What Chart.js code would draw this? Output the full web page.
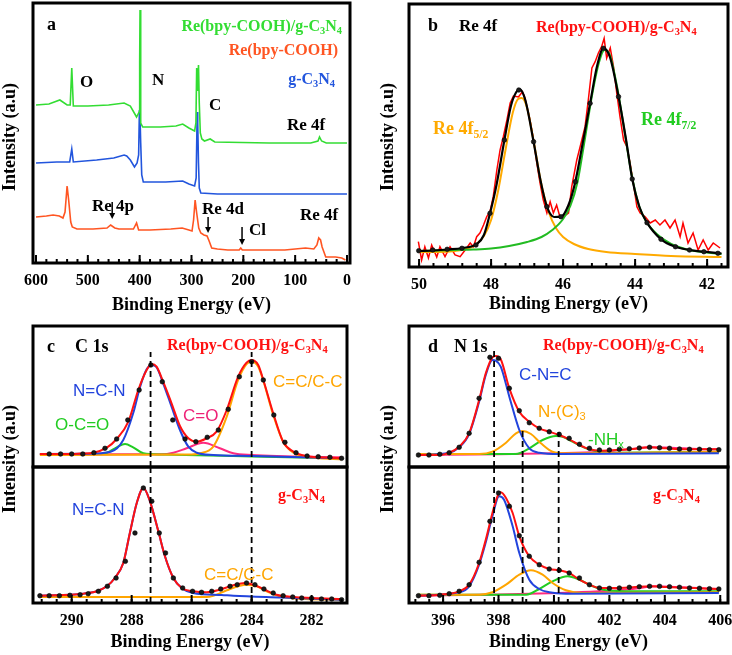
<!DOCTYPE html>
<html>
<head>
<meta charset="utf-8">
<script src="https://cdn.jsdelivr.net/npm/chart.js@4.4.1/dist/chart.umd.min.js"></script>
<style>
  body { margin: 0; background: #fff; }
  #page { position: relative; width: 732px; height: 655px; overflow: hidden; }
  canvas { position: absolute; }
  .t { position: absolute; white-space: nowrap; transform: translateY(-50%); font-family: 'Liberation Serif', serif; font-weight: bold; font-size: 17px; line-height: 1; }
  .r { transform: translate(-100%, -50%); }
  .s { font-family: 'Liberation Sans', Arial, sans-serif; font-weight: normal; font-size: 17px; }
  .yt { position: absolute; white-space: nowrap; transform: translate(-50%, -50%) rotate(-90deg); font-family: 'Liberation Serif', serif; font-weight: bold; font-size: 18px; }
  sub { font-size: 0.65em; vertical-align: -0.3em; line-height: 0; }
</style>
</head>
<body>
<div id="page">
  <canvas id="ca"></canvas>
  <canvas id="cb"></canvas>
  <canvas id="ccUp"></canvas>
  <canvas id="ccLow"></canvas>
  <canvas id="cdUp"></canvas>
  <canvas id="cdLow"></canvas>

  <!-- y titles -->
  <div class="yt" style="left:9px;top:137px">Intensity (a.u)</div>
  <div class="yt" style="left:387px;top:137px">Intensity (a.u)</div>
  <div class="yt" style="left:9px;top:459px">Intensity (a.u)</div>
  <div class="yt" style="left:387px;top:459px">Intensity (a.u)</div>

  <!-- panel a -->
  <div class="t" style="left:47px;top:24px;font-size:18px">a</div>
  <div class="t" style="left:80px;top:81px">O</div>
  <div class="t" style="left:152px;top:79px">N</div>
  <div class="t" style="left:209px;top:104px">C</div>
  <div class="t" style="left:287px;top:124px">Re 4f</div>
  <div class="t" style="left:92px;top:205px">Re 4p</div>
  <div class="t" style="left:202px;top:208px">Re 4d</div>
  <div class="t" style="left:249px;top:229px">Cl</div>
  <div class="t" style="left:300px;top:214px">Re 4f</div>
  <div class="t r" style="left:342px;top:26px;color:#33dd33;font-size:16px">Re(bpy-COOH)/g-C<sub>3</sub>N<sub>4</sub></div>
  <div class="t r" style="left:338px;top:50px;color:#ff5522;font-size:16px">Re(bpy-COOH)</div>
  <div class="t r" style="left:335px;top:79px;color:#2255dd;font-size:16px">g-C<sub>3</sub>N<sub>4</sub></div>

  <!-- panel b -->
  <div class="t" style="left:428px;top:25px;font-size:18px">b</div>
  <div class="t" style="left:459px;top:25px">Re 4f</div>
  <div class="t" style="left:536px;top:27px;color:#ff1111;font-size:16px">Re(bpy-COOH)/g-C<sub>3</sub>N<sub>4</sub></div>
  <div class="t" style="left:433px;top:128px;color:#ffaa00;font-size:18px">Re 4f<sub>5/2</sub></div>
  <div class="t" style="left:641px;top:119px;color:#22cc22;font-size:18px">Re 4f<sub>7/2</sub></div>

  <!-- panel c -->
  <div class="t" style="left:47px;top:346px;font-size:18px">c</div>
  <div class="t" style="left:75px;top:346px;font-size:18px">C 1s</div>
  <div class="t" style="left:167px;top:345px;color:#ff1111;font-size:16px">Re(bpy-COOH)/g-C<sub>3</sub>N<sub>4</sub></div>
  <div class="t s" style="left:73px;top:390px;color:#2244dd">N=C-N</div>
  <div class="t s" style="left:55px;top:424px;color:#22cc22">O-C=O</div>
  <div class="t s" style="left:183px;top:415px;color:#ee2277">C=O</div>
  <div class="t s" style="left:273px;top:381px;color:#ffa500">C=C/C-C</div>
  <div class="t" style="left:278px;top:495px;color:#ff1111;font-size:16px">g-C<sub>3</sub>N<sub>4</sub></div>
  <div class="t s" style="left:72px;top:509px;color:#2244dd">N=C-N</div>
  <div class="t s" style="left:204px;top:574px;color:#ffa500">C=C/C-C</div>

  <!-- panel d -->
  <div class="t" style="left:428px;top:346px;font-size:18px">d</div>
  <div class="t" style="left:454px;top:346px;font-size:18px">N 1s</div>
  <div class="t" style="left:543px;top:345px;color:#ff1111;font-size:16px">Re(bpy-COOH)/g-C<sub>3</sub>N<sub>4</sub></div>
  <div class="t s" style="left:519px;top:374px;color:#2244dd">C-N=C</div>
  <div class="t s" style="left:538px;top:411px;color:#ffa500">N-(C)<sub>3</sub></div>
  <div class="t s" style="left:588px;top:439px;color:#22cc22">-NH<sub>x</sub></div>
  <div class="t" style="left:653px;top:495px;color:#ff1111;font-size:16px">g-C<sub>3</sub>N<sub>4</sub></div>
</div>

<script>
// ---- data: [binding energy (eV), intensity (a.u.)] ----

// panel a, survey spectra
const aComposite = [[600,158],[575,159],[554,163],[540,158],[534,158],[531,195],[528,157],[500,157],[460,158],[430,160],[418,157],[406,146],[401,151],[400,200],[399.3,253],[398.5,200],[397.5,140],[394,136],[360,136],[330,137],[317,139],[305,135],[294,132],[291.5,140],[290,195],[288.5,172],[286.5,198],[285,160],[283,130],[280,124],[275,122],[264,124],[255,121],[150,120],[70,120],[56,122],[53,126],[49,122],[40,120],[0,120]];
const aCarbonNitride = [[600,100],[560,101],[535,101],[531,114],[528,101],[483,103],[450,105],[430,108],[425,107],[418,103],[410,96],[405,100],[402,108],[400.5,153],[399.5,150],[398,120],[396,88],[393,81],[350,81],[317,82],[305,79],[294,77],[291,85],[289,151],[288,140],[286.5,100],[285,75],[282,70],[250,69],[0,69]];
const aComplex = [[600,46],[580,47],[567,48],[555,47],[548,45],[544,51],[540,77],[537,63],[533,41],[530,36],[521,34],[490,34],[463,35],[456,38],[448,35],[440,34],[412,34],[406,40],[402,33],[380,33],[340,34],[318,35],[305,33],[299,32],[296,43],[293,63],[290,50],[286,35],[282,30],[276,28],[270,27],[266,22],[261,15],[250,14],[230,13],[208,13],[205,15],[202,13],[177,13],[120,13],[80,15],[64,14],[58,18],[54.5,25],[51,23],[48,16],[41,6],[22,6],[10,5],[3,3]];
const aTicks = [600, 500, 400, 300, 200, 100, 0];
const aArrows = [{x: 453, from: 61, to: 44}, {x: 268, from: 46, to: 30}, {x: 202.5, from: 36, to: 18}];

// panel b, Re 4f
const bRaw = [[50.02,25.3],[49.93,7],[49.84,20.3],[49.74,9],[49.65,22],[49.51,10],[49.42,20.3],[49.28,10.3],[49.14,20.3],[49.0,12],[48.86,10.3],[48.72,17],[48.58,24],[48.49,20.3],[48.4,30.3],[48.31,34],[48.21,42],[48.12,50.3],[48.03,55.3],[47.94,70.3],[47.84,97],[47.75,117],[47.66,130.3],[47.56,147],[47.47,164],[47.38,171],[47.24,170],[47.13,175.3],[47.06,169],[46.92,147],[46.82,127],[46.73,104],[46.64,84],[46.55,67],[46.45,54],[46.36,65.3],[46.27,54],[46.18,62],[46.08,49],[45.99,50.3],[45.85,54],[45.76,80.3],[45.62,107],[45.48,127],[45.39,140.3],[45.3,167],[45.2,199],[45.11,205.3],[45.02,214],[44.93,220.3],[44.86,228.7],[44.79,209],[44.69,219],[44.6,200.3],[44.51,174],[44.42,150.3],[44.32,127],[44.23,120.3],[44.14,104],[44.05,84],[43.95,60.3],[43.86,54],[43.72,50.3],[43.58,44],[43.44,47],[43.31,42],[43.17,47],[43.03,39],[42.89,47],[42.75,30.3],[42.67,44],[42.53,24],[42.39,34],[42.25,17],[42.11,27],[41.97,17],[41.83,24],[41.64,19]];
const bFit = [[50.0,16],[49.6,16.5],[49.2,17.5],[48.8,19],[48.4,23],[48.2,32],[48.03,53.7],[47.85,82],[47.63,127],[47.45,161],[47.3,175],[47.2,177.7],[47.05,167],[46.82,125.3],[46.63,87],[46.45,60.3],[46.25,50],[46.06,50.3],[45.85,62],[45.66,85.3],[45.45,125],[45.25,163.7],[45.05,202],[44.88,218.7],[44.7,210],[44.46,170.3],[44.25,127],[44.08,88],[43.88,60],[43.67,44.3],[43.28,27.7],[42.88,20.3],[42.49,17],[42.09,15.3],[41.6,13.5]];
const bFitDots = [[50.01,16.3],[49.62,17],[49.22,17.7],[48.81,18.7],[48.42,22],[48.03,53.7],[47.63,127],[47.23,177],[46.82,125.3],[46.45,60.3],[46.06,50.3],[45.66,85.3],[45.25,163.7],[44.88,218.7],[44.46,170.3],[44.08,88],[43.67,44.3],[43.28,27.7],[42.88,20.3],[42.49,17],[42.09,15.3],[41.7,13.7]];
const bRe4f52 = [[50.0,15],[49.5,15],[49.0,16],[48.6,19],[48.4,23],[48.2,31],[48.0,47],[47.8,77],[47.6,117],[47.4,154],[47.25,168],[47.15,169],[47.0,159],[46.8,122],[46.6,82],[46.4,55],[46.2,39],[46.0,30],[45.7,23],[45.3,18],[44.8,15],[44.0,13],[43.0,11],[41.6,10]];
const bRe4f72 = [[50.0,16],[49.0,17],[48.5,17.5],[48.0,18.5],[47.5,21],[47.0,25],[46.6,30],[46.3,37],[46.0,48],[45.8,61],[45.6,85],[45.4,127],[45.2,171],[45.0,205],[44.85,217],[44.7,212],[44.5,180],[44.3,137],[44.1,93],[43.9,62],[43.7,46],[43.4,33],[43.0,23],[42.5,17],[42.0,14.5],[41.6,13]];
const bTicks = [50, 48, 46, 44, 42];

// panel c, C 1s
const cUpEnvelope = [[291.06,13],[290,13],[289.7,13.5],[289.28,14.3],[288.83,19.3],[288.5,28],[288.11,45.3],[287.78,77],[287.5,97],[287.33,103],[287.17,100.3],[286.95,85.3],[286.67,63.7],[286.39,41],[286.11,28.7],[285.83,25.3],[285.5,28.7],[285.17,35.3],[284.83,57],[284.45,90.3],[284.17,104.3],[284.0,107],[283.78,102],[283.61,87],[283.28,53.7],[282.95,25.3],[282.61,15.3],[282.17,11],[281.0,8.7]];
const cUpNCN = [[291.06,13],[289.5,13.3],[288.7,15.3],[288.28,27],[287.95,53.7],[287.72,80],[287.5,97.7],[287.33,102],[287.17,99.7],[286.95,83.7],[286.67,60.3],[286.39,37],[286.11,20.3],[285.83,14.3],[285.28,12],[284,11],[281.0,8.7]];
const cUpOCO = [[291.06,12.7],[289.3,13],[288.83,14.3],[288.5,19.7],[288.22,23],[287.95,19.7],[287.61,13.7],[287.0,12.5],[284,10.5],[281.0,8.7]];
const cUpCO = [[291.06,12.7],[287,12.7],[286.61,14.3],[286.17,18.7],[285.61,24.3],[285.06,18.7],[284.61,13.7],[284,12],[281.0,9.7]];
const cUpCC = [[291.06,12],[286,12.5],[285.72,13.7],[285.28,20.3],[284.83,50.3],[284.45,87],[284.17,103],[284.0,105.3],[283.78,100.3],[283.61,86.3],[283.28,52],[282.95,25.3],[282.61,14.3],[282.17,10.3],[281.0,7.7]];
const cUpDots = [[290.75,13],[290.37,13],[290.0,13],[289.63,13],[289.26,14.3],[288.89,18.7],[288.5,28],[288.13,47],[287.75,77],[287.36,102],[286.98,85.3],[286.63,47],[286.22,28],[285.86,25.3],[285.48,29.7],[285.11,37],[284.78,57.7],[284.41,90.3],[284.0,105.3],[283.61,87],[283.26,52],[282.89,24.7],[282.52,14.3],[282.15,11],[281.78,10.3],[281.39,9.7],[281.0,8.7]];
const cLowEnvelope = [[291.06,7.3],[289.61,9.3],[289.17,11.7],[288.83,16.7],[288.56,25],[288.28,40],[288.06,70],[287.83,100],[287.61,115],[287.39,101.7],[287.11,71.7],[286.89,46.7],[286.61,25],[286.33,15],[285.95,11.7],[285.5,10.7],[285.06,13.3],[284.61,17.7],[284.22,20],[283.94,18.3],[283.61,14],[283.17,8.3],[282.61,6],[281.0,4]];
const cLowNCN = [[291.06,7.3],[289.61,9.3],[289.17,11.7],[288.83,16.7],[288.56,25],[288.28,40],[288.06,70],[287.83,100],[287.61,115],[287.39,101.7],[287.11,71.7],[286.89,46.7],[286.61,25],[286.33,15],[285.95,10],[285.0,8],[284.61,7.3],[283,5.5],[281.0,3.3]];
const cLowCC = [[291.06,6],[285.5,6],[285.28,7.3],[284.83,12.7],[284.39,17.3],[284.17,18.3],[283.83,16.7],[283.5,11.7],[283.06,6.7],[282.5,4.5],[281.0,3.3]];
const cLowDots = [[291.06,7.3],[290.75,7.3],[290.41,7.3],[290.06,7.7],[289.72,8.3],[289.45,9.3],[289.11,11.7],[288.81,16.7],[288.52,25],[288.21,41.7],[287.89,70],[287.61,115],[287.33,101.7],[287.08,70],[286.87,50],[286.61,25],[286.3,15],[285.97,11.7],[285.67,10.7],[285.33,11.7],[285.03,14],[284.72,16.7],[284.48,18.3],[284.17,20],[283.89,18.3],[283.59,14],[283.28,10],[282.95,7.3],[282.63,6],[282.33,5],[282.0,4.7],[281.67,4],[281.33,4],[281.0,3.3]];
const cPeakLines = [287.37, 284.0];
const cUpLineTop = 115;
const cTicks = [290, 288, 286, 284, 282];

// panel d, N 1s
const dUpEnvelope = [[395.11,12],[395.88,12],[396.22,14.3],[396.58,20.3],[396.94,33.7],[397.3,67],[397.54,93.7],[397.78,109.7],[397.9,111],[398.08,107.7],[398.39,78.7],[398.75,55.3],[399.11,45.3],[399.47,38.7],[399.83,35.3],[400.19,32],[400.55,27.7],[400.92,22],[401.28,17.7],[401.64,16.3],[402.24,17],[402.84,18],[403.45,19.7],[404.05,18.7],[404.65,17.7],[405.25,17.7],[405.95,17.7]];
const dUpCNC = [[395.11,12],[396.22,14.3],[396.58,19.7],[396.94,33],[397.3,65.3],[397.54,92],[397.78,107],[397.9,106.3],[398.08,100.3],[398.39,70.3],[398.75,37],[399.11,18.7],[399.47,14.3],[400.19,13],[405.95,13.7]];
const dUpNC3 = [[395.11,13],[397.3,13],[397.78,15.3],[398.27,24.3],[398.63,33.7],[398.87,36],[399.17,33],[399.53,23.7],[399.95,15.3],[400.43,13.7],[405.95,15.3]];
const dUpNHx = [[395.11,13],[398.63,13],[399.11,18.7],[399.59,27],[400.07,31],[400.31,30.3],[400.67,25.3],[401.16,18.7],[401.64,15.3],[402.24,14.3],[405.95,15.3]];
const dUpSat = [[395.11,12],[398.0,12.7],[400.0,13.7],[401.6,15],[402.8,18],[403.5,19.7],[404.2,19.3],[405.2,18],[405.95,17.7]];
const dUpDots = [[395.11,12],[395.49,12],[395.88,12.7],[396.22,14.3],[396.58,19.7],[396.94,33.7],[397.3,68.7],[397.69,109.7],[398.0,108.7],[398.39,78.7],[398.75,56.3],[399.11,44.3],[399.47,38.7],[399.83,35.3],[400.19,32.7],[400.55,28.7],[400.92,22.7],[401.28,18.7],[401.64,17],[402.0,17],[402.36,17.7],[402.72,18.3],[403.08,19],[403.45,19.7],[403.81,19.3],[404.17,18.7],[404.53,18],[404.89,17.7],[405.25,17.7],[405.61,17.3],[405.95,17.3]];
const dLowEnvelope = [[395.11,7.3],[395.88,8.3],[396.58,11.7],[396.94,18.3],[397.3,40],[397.54,63.3],[397.78,90],[397.96,106.7],[398.08,110.7],[398.27,105],[398.51,90],[398.75,66.7],[399.11,46.7],[399.47,38.3],[399.83,34],[400.19,32.7],[400.55,30],[400.92,23.3],[401.28,18.3],[401.64,15],[402.24,15],[402.84,15.7],[403.45,16.7],[404.05,16],[404.65,15.3],[405.25,14.7],[405.95,14]];
const dLowCNC = [[395.11,7.3],[396.58,10.7],[396.94,16.7],[397.3,38.3],[397.54,60.7],[397.78,86.7],[398.02,106.7],[398.2,103.3],[398.51,76.7],[398.75,50],[399.11,23.3],[399.47,14],[399.83,10.7],[400.43,9.3],[405.95,10]];
const dLowNC3 = [[395.11,8.3],[397.3,8.3],[397.78,10.7],[398.27,18.3],[398.75,28.3],[399.17,32.7],[399.59,28.3],[399.95,20],[400.43,12.7],[401.04,10],[405.95,10.7]];
const dLowNHx = [[395.11,8.3],[399.0,8.3],[399.47,14],[399.95,21.7],[400.49,26.7],[400.92,23.3],[401.4,16.7],[401.88,12.7],[402.84,11.7],[405.95,11.7]];
const dLowSat = [[395.11,7.3],[398.0,8.5],[400.19,10],[401.64,11.7],[402.84,14],[403.69,16.7],[404.65,15.7],[405.95,14]];
const dLowDots = [[395.11,7.3],[395.49,7.3],[395.88,7.7],[396.22,9.3],[396.58,11.7],[396.94,18.3],[397.3,40.7],[397.69,81.7],[398.0,110],[398.39,96.7],[398.75,67.3],[399.11,46.7],[399.47,38.3],[399.83,34],[400.19,32.7],[400.55,30],[400.92,25],[401.28,18.3],[401.64,15],[402.0,14.7],[402.36,15],[402.72,15.7],[403.08,16.3],[403.45,16.7],[403.81,16.7],[404.17,16.3],[404.53,15.7],[404.89,15],[405.25,14.7],[405.61,14.3],[405.95,14]];
const dPeakLines = [397.84, 398.87, 400.17];
const dUpLineTops = [118, 37, 35];
const dTicks = [396, 398, 400, 402, 404, 406];

// ---- drawing ----
const serif = 'Liberation Serif';

// frame around the plot + inward ticks + arrows
const framePlugin = {
  id: 'frame',
  afterDatasetsDraw(chart, args, opts) {
    const { ctx, chartArea: ca } = chart;
    const x = chart.scales.x, y = chart.scales.y;
    ctx.save();
    ctx.strokeStyle = '#000';
    ctx.lineWidth = 2;
    const tick = (v, len) => {
      const px = x.getPixelForValue(v);
      ctx.beginPath();
      ctx.moveTo(px, ca.bottom);
      ctx.lineTo(px, ca.bottom - len);
      ctx.stroke();
    };
    (opts.minors || []).forEach(v => tick(v, 4));
    (opts.majors || []).forEach(v => tick(v, 8));
    ctx.lineWidth = 3;
    ctx.strokeRect(ca.left, ca.top, ca.width, ca.height);
    (opts.arrows || []).forEach(a => {
      const px = x.getPixelForValue(a.x);
      const y1 = y.getPixelForValue(a.from), y2 = y.getPixelForValue(a.to);
      ctx.lineWidth = 1.5;
      ctx.beginPath();
      ctx.moveTo(px, y1);
      ctx.lineTo(px, y2 - 5);
      ctx.stroke();
      ctx.fillStyle = '#000';
      ctx.beginPath();
      ctx.moveTo(px - 3, y2 - 6);
      ctx.lineTo(px + 3, y2 - 6);
      ctx.lineTo(px, y2);
      ctx.closePath();
      ctx.fill();
    });
    ctx.restore();
  }
};
Chart.register(framePlugin);

function pts(pairs) {
  return pairs.map(p => ({ x: p[0], y: p[1] }));
}
function line(pairs, color, width, smooth) {
  const ds = { data: pts(pairs), borderColor: color, borderWidth: width, pointRadius: 0, fill: false, tension: 0 };
  if (smooth) ds.cubicInterpolationMode = 'monotone';
  return ds;
}
function dots(pairs) {
  return { data: pts(pairs), showLine: false, pointRadius: 2.3, pointBackgroundColor: '#1a1a1a', pointBorderColor: '#000', pointBorderWidth: 0.6 };
}
function dash(e, top) {
  return { data: [{ x: e, y: 0 }, { x: e, y: top }], borderColor: '#000', borderWidth: 1.8, borderDash: [6, 4], pointRadius: 0 };
}
function steps(from, to, step) {
  const out = [];
  for (let v = from; v <= to + 1e-9; v += step) out.push(+v.toFixed(3));
  return out;
}

// box = plot area in page pixels, axisH = room under it for tick labels and title
function makeChart(id, box, xRange, yMax, datasets, frame, showAxis) {
  const padX = 30, padTop = 6;
  const axisH = showAxis ? box.axisH : 0;
  const padBottom = showAxis ? 0 : 6;
  const cv = document.getElementById(id);
  cv.width = box.r - box.l + 2 * padX;
  cv.height = box.b - box.t + padTop + axisH + padBottom;
  cv.style.left = (box.l - padX) + 'px';
  cv.style.top = (box.t - padTop) + 'px';
  return new Chart(cv, {
    type: 'line',
    data: { datasets: datasets },
    options: {
      responsive: false,
      animation: false,
      devicePixelRatio: 1,
      layout: { padding: { left: padX, right: padX, top: padTop, bottom: padBottom } },
      plugins: { legend: { display: false }, tooltip: { enabled: false }, frame: frame },
      scales: {
        x: {
          type: 'linear',
          reverse: xRange.reverse,
          min: xRange.min,
          max: xRange.max,
          display: showAxis,
          grid: { display: false, drawTicks: false },
          border: { display: false },
          afterBuildTicks: s => { s.ticks = (frame.majors || []).map(v => ({ value: v })); },
          afterFit: s => { s.height = axisH; s.paddingLeft = 0; s.paddingRight = 0; },
          ticks: { padding: 8, color: '#000', maxRotation: 0, autoSkip: false, font: { family: serif, weight: 'bold', size: 16 } },
          title: { display: true, text: 'Binding Energy (eV)', color: '#000', padding: { top: 0, bottom: 0 }, font: { family: serif, weight: 'bold', size: 18 } }
        },
        y: { type: 'linear', display: false, min: 0, max: yMax }
      }
    }
  });
}

const boxA = { l: 33, r: 350, t: 3, b: 263, axisH: 53 };
const boxB = { l: 409, r: 728, t: 4, b: 267, axisH: 48 };
const boxCUp = { l: 33, r: 347, t: 326, b: 467 };
const boxCLow = { l: 33, r: 347, t: 467, b: 603, axisH: 50 };
const boxDUp = { l: 409, r: 728, t: 326, b: 467 };
const boxDLow = { l: 409, r: 728, t: 467, b: 603, axisH: 50 };

const rangeA = { min: -5.8, max: 605.8, reverse: true };
const rangeB = { min: 41.42, max: 50.28, reverse: true };
const rangeC = { min: 280.82, max: 291.29, reverse: true };
const rangeD = { min: 394.77, max: 406.28, reverse: false };

const RED = '#ff1111', BLUE = '#2244dd', GREEN = '#22cc22', ORANGE = '#ffa500', PINK = '#ff2a7f';

makeChart('ca', boxA, rangeA, 260, [
  line(aComposite, '#33dd33', 1.6),
  line(aCarbonNitride, '#2255dd', 1.6),
  line(aComplex, '#ff5522', 1.6)
], { majors: aTicks, minors: steps(0, 600, 20), arrows: aArrows }, true);

makeChart('cb', boxB, rangeB, 263, [
  dots(bFitDots),
  line(bFit, '#000', 2.2, true),
  line(bRe4f72, '#22bb22', 2, true),
  line(bRe4f52, '#ffaa00', 2, true),
  line(bRaw, '#ff0000', 1.5)
], { majors: bTicks, minors: steps(41.6, 50, 0.4) }, true);

makeChart('ccUp', boxCUp, rangeC, 141, [
  ...cPeakLines.map(e => dash(e, cUpLineTop)),
  dots(cUpDots),
  line(cUpEnvelope, RED, 2, true),
  line(cUpNCN, BLUE, 2, true),
  line(cUpCC, ORANGE, 2, true),
  line(cUpOCO, GREEN, 2, true),
  line(cUpCO, PINK, 2, true)
], {}, false);

makeChart('ccLow', boxCLow, rangeC, 136, [
  ...cPeakLines.map(e => dash(e, 136)),
  dots(cLowDots),
  line(cLowEnvelope, RED, 2, true),
  line(cLowNCN, BLUE, 2, true),
  line(cLowCC, ORANGE, 2, true)
], { majors: cTicks, minors: steps(281, 291, 0.5) }, true);

makeChart('cdUp', boxDUp, rangeD, 141, [
  ...dPeakLines.map((e, i) => dash(e, dUpLineTops[i])),
  dots(dUpDots),
  line(dUpEnvelope, RED, 2, true),
  line(dUpCNC, BLUE, 2, true),
  line(dUpNC3, ORANGE, 2, true),
  line(dUpNHx, GREEN, 2, true),
  line(dUpSat, PINK, 2, true)
], {}, false);

makeChart('cdLow', boxDLow, rangeD, 136, [
  ...dPeakLines.map(e => dash(e, 136)),
  dots(dLowDots),
  line(dLowEnvelope, RED, 2, true),
  line(dLowCNC, BLUE, 2, true),
  line(dLowNC3, ORANGE, 2, true),
  line(dLowNHx, GREEN, 2, true),
  line(dLowSat, PINK, 2, true)
], { majors: dTicks, minors: steps(395, 406, 0.5) }, true);
</script>
</body>
</html>
